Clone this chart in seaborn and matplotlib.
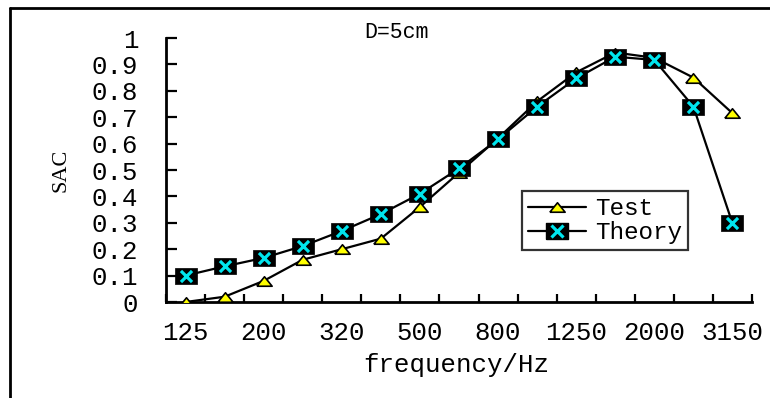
import matplotlib
matplotlib.use("Agg")
import matplotlib.pyplot as plt
from matplotlib.lines import Line2D
from matplotlib.legend_handler import HandlerTuple
import seaborn as sns
import pandas as pd
import numpy as np

# ---- data ----
freqs = ["125", "160", "200", "250", "320", "400", "500", "630", "800",
         "1000", "1250", "1600", "2000", "2500", "3150"]
test_sac = [0.00, 0.02, 0.08, 0.16, 0.20, 0.24, 0.36, 0.49, 0.62,
            0.76, 0.87, 0.945, 0.925, 0.85, 0.715]
theory_sac = [0.10, 0.135, 0.167, 0.212, 0.269, 0.333, 0.41, 0.506, 0.616,
              0.74, 0.847, 0.929, 0.917, 0.74, 0.298]
xtick_labels = ["125", "200", "320", "500", "800", "1250", "2000", "3150"]
yticks = [0, 0.1, 0.2, 0.3, 0.4, 0.5, 0.6, 0.7, 0.8, 0.9, 1.0]
ytick_labels = ["0", "0.1", "0.2", "0.3", "0.4", "0.5", "0.6", "0.7", "0.8", "0.9", "1"]

sns.set_theme(style="white")
plt.rcParams['font.family'] = ['Liberation Mono', 'DejaVu Sans']

W, H = 770, 398
fig = plt.figure(figsize=(W / 100, H / 100), dpi=100)
ax = fig.add_axes([166 / W, 1 - 302 / H, (752 - 166) / W, (302 - 38) / H])

pos = np.arange(len(freqs))
df_test = pd.DataFrame({"pos": pos, "SAC": test_sac})
df_theory = pd.DataFrame({"pos": pos, "SAC": theory_sac})

tri = [(-1, -0.62), (1, -0.62), (0, 0.62), (-1, -0.62)]
rect = [(-1, -0.7), (1, -0.7), (1, 0.7), (-1, 0.7), (-1, -0.7)]

sns.lineplot(data=df_test, x="pos", y="SAC", ax=ax, color="black", lw=1.6,
             marker=tri, markersize=11, markerfacecolor="#ffff00",
             markeredgecolor="black", markeredgewidth=1.2, zorder=3)
sns.lineplot(data=df_theory, x="pos", y="SAC", ax=ax, color="black", lw=1.6,
             marker=rect, markersize=16, markerfacecolor="black",
             markeredgecolor="black", markeredgewidth=0.5, zorder=4)
sns.scatterplot(data=df_theory, x="pos", y="SAC", ax=ax, marker="x",
                color="#00e5ee", s=64, linewidth=2.3, zorder=5)

ax.set_xlim(-0.5, len(freqs) - 0.5)
ax.set_ylim(0, 1)
ax.set_xlabel("")
ax.set_ylabel("")
for s in ["top", "right"]:
    ax.spines[s].set_visible(False)
for s in ["left", "bottom"]:
    ax.spines[s].set_color("black")
    ax.spines[s].set_linewidth(2)

# major x ticks at category boundaries (no labels), labels on minor ticks
ax.set_xticks(np.arange(-0.5, len(freqs), 1.0))
ax.set_xticklabels([])
ax.set_xticks(pos[::2], minor=True)
ax.set_xticklabels(xtick_labels, minor=True, fontsize=18.5)
ax.tick_params(axis="x", which="major", direction="in", length=6, width=1.6,
               color="black", bottom=True)
ax.tick_params(axis="x", which="minor", length=0, pad=14, colors="black")

ax.set_yticks(yticks)
ax.set_yticklabels(ytick_labels, fontsize=18.5)
ax.tick_params(axis="y", direction="in", length=8, width=1.6, color="black",
               left=True, pad=20, labelcolor="black")

# axis labels / title
fig.text(456 / W, 1 - 365 / H, "frequency/Hz", ha="center", va="center",
         fontsize=18.5, color="black")
fig.text(61 / W, 1 - 170 / H, "SAC", ha="center", va="center", rotation=90,
         fontsize=16, color="black", family=["Liberation Serif"])
fig.text(396 / W, 1 - 33 / H, "D=5cm", ha="center", va="center",
         fontsize=15.5, color="black")

# legend
h_test = Line2D([], [], color="black", lw=1.6, marker=tri, markersize=11,
                markerfacecolor="#ffff00", markeredgecolor="black",
                markeredgewidth=1.2)
h_rect = Line2D([], [], color="black", lw=1.6, marker=rect, markersize=16,
                markerfacecolor="black", markeredgecolor="black")
h_x = Line2D([], [], color="#00e5ee", lw=0, marker="x", markersize=8,
             markeredgewidth=2.3)
leg = fig.legend([h_test, (h_rect, h_x)], ["Test", "Theory"],
                 handler_map={tuple: HandlerTuple(ndivide=1, pad=0)},
                 loc="upper left", bbox_to_anchor=(522 / W, 1 - 191 / H),
                 borderaxespad=0, fontsize=17.5, frameon=True, fancybox=False,
                 handlelength=2.4, handletextpad=0.35, labelspacing=0.05,
                 borderpad=0.25)
leg.get_frame().set_edgecolor("black")
leg.get_frame().set_linewidth(1.6)
for t in leg.get_texts():
    t.set_color("black")

# outer border (left and top)
fig.add_artist(Line2D([10 / W, 10 / W], [0, 1 - 8 / H], color="black", lw=2,
                      transform=fig.transFigure))
fig.add_artist(Line2D([10 / W, 1], [1 - 8 / H, 1 - 8 / H], color="black", lw=2,
                      transform=fig.transFigure))

fig.savefig("out.png", dpi=100)
